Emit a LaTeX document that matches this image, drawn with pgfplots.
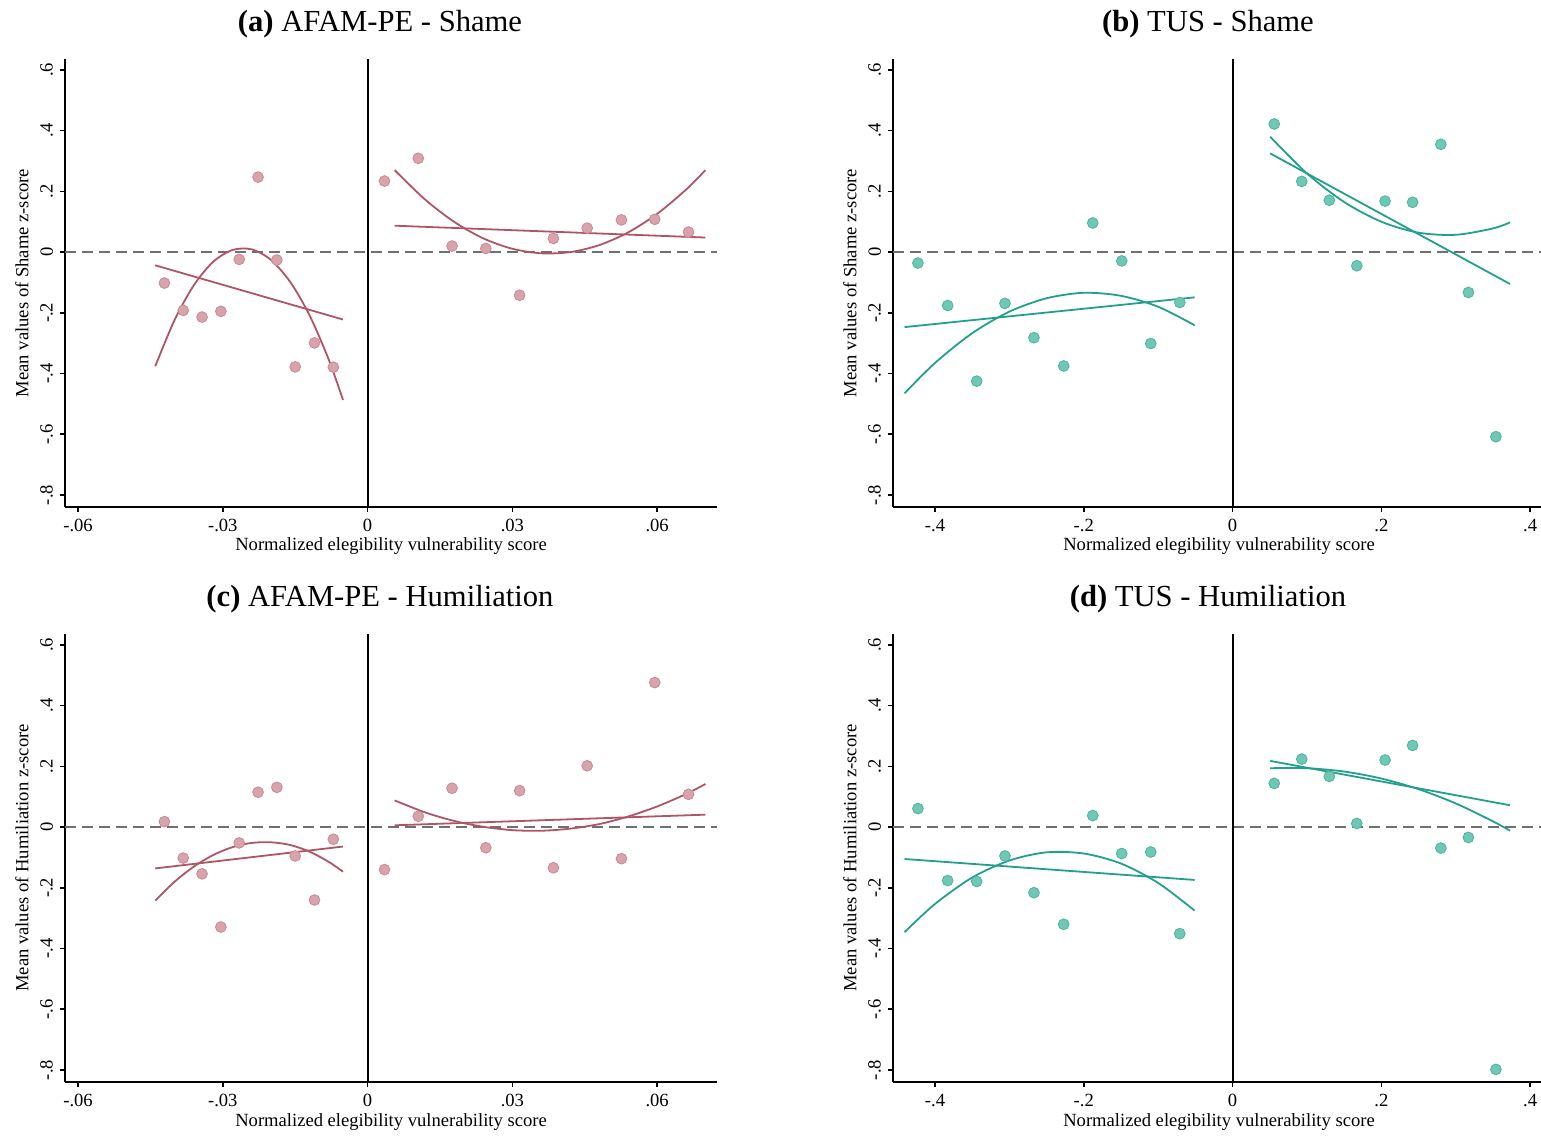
\documentclass[border=0pt]{standalone}
\usepackage{pgfplots}
\pgfplotsset{compat=1.18}
\usepackage{fontspec}
\setmainfont{Liberation Serif}
\definecolor{afam}{HTML}{B05565}
\definecolor{afamfill}{HTML}{D9A3AB}
\definecolor{afamedge}{HTML}{C98A94}
\definecolor{tus}{HTML}{21A08C}
\definecolor{tusfill}{HTML}{6FC8B4}
\definecolor{tusedge}{HTML}{4DB39E}
\definecolor{zerogray}{HTML}{707070}
\pgfplotsset{
  panel/.style={
    scale only axis, width=326pt, height=224pt,
    axis x line*=bottom, axis y line*=left,
    axis line style={-, black, line width=0.8pt},
    ymin=-0.8395, ymax=0.636,
    ytick={-0.8,-0.6,-0.4,-0.2,0,0.2,0.4,0.6},
    yticklabels={-.8,-.6,-.4,-.2,0,.2,.4,.6},
    scaled x ticks=false, scaled y ticks=false,
    tick align=outside, major tick length=2.5pt,
    tick style={black, line width=0.8pt},
    ticklabel style={font=\fontsize{9.3}{11}\selectfont},
    yticklabel style={rotate=90, anchor=south},
    label style={font=\fontsize{9.3}{11}\selectfont},
    xlabel={Normalized elegibility vulnerability score},
    xlabel style={at={(axis description cs:0.5,0)}, anchor=base, yshift=-22pt},
    ylabel style={at={(axis description cs:-0.066,0.5)}, anchor=center},
    title style={font=\fontsize{15.3}{18}\selectfont, at={(0.5,1)}, anchor=base, yshift=8pt, xshift=-5.5pt},
  },
  afamx/.style={xmin=-0.0627, xmax=0.0724, xtick={-0.06,-0.03,0,0.03,0.06}, xticklabels={-.06,-.03,0,.03,.06}},
  tusx/.style={xmin=-0.4565, xmax=0.42, xtick={-0.4,-0.2,0,0.2,0.4}, xticklabels={-.4,-.2,0,.2,.4}},
  zeroline/.style={black, line width=1pt},
  dashline/.style={zerogray, line width=1pt, dash pattern=on 5.5pt off 3pt},
  afamfit/.style={afam, line width=0.9pt, no markers},
  tusfit/.style={tus, line width=0.9pt, no markers},
  afampts/.style={only marks, mark=*, mark size=2.7pt, mark options={fill=afamfill, draw=afamedge, line width=0.4pt}},
  tuspts/.style={only marks, mark=*, mark size=2.7pt, mark options={fill=tusfill, draw=tusedge, line width=0.4pt}},
}
\begin{document}
\begin{tikzpicture}
\useasboundingbox (0,0) rectangle (770.5pt,-567.5pt);
% (a)
\begin{axis}[panel, afamx, at={(32.5pt,-29.5pt)}, anchor=north west,
  title={\textbf{(a)} AFAM-PE - Shame}, ylabel={Mean values of Shame z-score}]
\addplot[dashline] coordinates {(-0.0627,0) (0.0724,0)};
\addplot[zeroline] coordinates {(0,-0.8395) (0,0.636)};
\addplot[afamfit] coordinates {(-0.044,-0.0435) (-0.0051,-0.222)};
\addplot[afamfit, smooth] coordinates {(-0.044,-0.376) (-0.040,-0.224) (-0.036,-0.109) (-0.032,-0.032) (-0.028,0.007) (-0.024,0.009) (-0.020,-0.026) (-0.016,-0.099) (-0.012,-0.209) (-0.008,-0.356) (-0.0051,-0.487)};
\addplot[afamfit] coordinates {(0.0056,0.087) (0.0700,0.048)};
\addplot[afamfit, smooth] coordinates {(0.0056,0.270) (0.012,0.172) (0.018,0.099) (0.024,0.045) (0.030,0.011) (0.036,-0.004) (0.042,0.000) (0.048,0.023) (0.054,0.065) (0.060,0.126) (0.066,0.206) (0.070,0.270)};
\addplot[afampts] coordinates {(-0.0421,-0.102) (-0.0382,-0.192) (-0.0343,-0.214) (-0.0304,-0.195) (-0.0266,-0.024) (-0.0227,0.247) (-0.0188,-0.026) (-0.0150,-0.378) (-0.0110,-0.299) (-0.0071,-0.379)};
\addplot[afampts] coordinates {(0.0035,0.234) (0.0105,0.309) (0.0175,0.020) (0.0245,0.012) (0.0315,-0.142) (0.0385,0.045) (0.0455,0.079) (0.0526,0.106) (0.0595,0.108) (0.0665,0.066)};
\end{axis}
% (b)
\begin{axis}[panel, tusx, at={(446.5pt,-29.5pt)}, anchor=north west,
  title={\textbf{(b)} TUS - Shame}, ylabel={Mean values of Shame z-score}]
\addplot[dashline] coordinates {(-0.4565,0) (0.42,0)};
\addplot[zeroline] coordinates {(0,-0.8395) (0,0.636)};
\addplot[tusfit] coordinates {(-0.441,-0.247) (-0.051,-0.149)};
\addplot[tusfit, smooth] coordinates {(-0.441,-0.465) (-0.40,-0.365) (-0.35,-0.267) (-0.30,-0.196) (-0.25,-0.152) (-0.20,-0.134) (-0.15,-0.144) (-0.10,-0.180) (-0.051,-0.241)};
\addplot[tusfit] coordinates {(0.0506,0.325) (0.373,-0.105)};
\addplot[tusfit, smooth] coordinates {(0.0506,0.380) (0.10,0.259) (0.15,0.165) (0.20,0.100) (0.25,0.064) (0.30,0.057) (0.35,0.078) (0.373,0.098)};
\addplot[tuspts] coordinates {(-0.423,-0.036) (-0.383,-0.176) (-0.344,-0.425) (-0.306,-0.169) (-0.267,-0.282) (-0.227,-0.375) (-0.188,0.096) (-0.149,-0.029) (-0.110,-0.301) (-0.071,-0.166)};
\addplot[tuspts] coordinates {(0.056,0.422) (0.093,0.233) (0.130,0.171) (0.167,-0.045) (0.205,0.168) (0.242,0.164) (0.280,0.355) (0.317,-0.133) (0.354,-0.608)};
\end{axis}
% (c)
\begin{axis}[panel, afamx, at={(32.5pt,-317pt)}, anchor=north west,
  title={\textbf{(c)} AFAM-PE - Humiliation}, ylabel={Mean values of Humiliation z-score}]
\addplot[dashline] coordinates {(-0.0627,0) (0.0724,0)};
\addplot[zeroline] coordinates {(0,-0.8395) (0,0.636)};
\addplot[afamfit] coordinates {(-0.044,-0.136) (-0.0051,-0.064)};
\addplot[afamfit, smooth] coordinates {(-0.044,-0.242) (-0.040,-0.180) (-0.036,-0.130) (-0.032,-0.092) (-0.028,-0.066) (-0.024,-0.052) (-0.020,-0.050) (-0.016,-0.059) (-0.012,-0.081) (-0.008,-0.115) (-0.0051,-0.147)};
\addplot[afamfit] coordinates {(0.0056,0.006) (0.0700,0.041)};
\addplot[afamfit, smooth] coordinates {(0.0056,0.088) (0.012,0.048) (0.018,0.020) (0.024,0.001) (0.030,-0.010) (0.036,-0.012) (0.042,-0.005) (0.048,0.010) (0.054,0.035) (0.060,0.068) (0.066,0.109) (0.070,0.142)};
\addplot[afampts] coordinates {(-0.0421,0.018) (-0.0382,-0.102) (-0.0343,-0.154) (-0.0304,-0.329) (-0.0266,-0.052) (-0.0227,0.115) (-0.0188,0.131) (-0.0150,-0.095) (-0.0110,-0.240) (-0.0071,-0.040)};
\addplot[afampts] coordinates {(0.0035,-0.140) (0.0105,0.036) (0.0175,0.128) (0.0245,-0.068) (0.0315,0.120) (0.0385,-0.134) (0.0455,0.202) (0.0526,-0.104) (0.0595,0.476) (0.0665,0.108)};
\end{axis}
% (d)
\begin{axis}[panel, tusx, at={(446.5pt,-317pt)}, anchor=north west,
  title={\textbf{(d)} TUS - Humiliation}, ylabel={Mean values of Humiliation z-score}]
\addplot[dashline] coordinates {(-0.4565,0) (0.42,0)};
\addplot[zeroline] coordinates {(0,-0.8395) (0,0.636)};
\addplot[tusfit] coordinates {(-0.441,-0.105) (-0.051,-0.174)};
\addplot[tusfit, smooth] coordinates {(-0.441,-0.346) (-0.40,-0.253) (-0.35,-0.166) (-0.30,-0.110) (-0.25,-0.083) (-0.20,-0.087) (-0.15,-0.120) (-0.10,-0.184) (-0.051,-0.275)};
\addplot[tusfit] coordinates {(0.0506,0.218) (0.373,0.072)};
\addplot[tusfit, smooth] coordinates {(0.0506,0.194) (0.10,0.194) (0.15,0.183) (0.20,0.160) (0.25,0.125) (0.30,0.078) (0.35,0.019) (0.373,-0.012)};
\addplot[tuspts] coordinates {(-0.423,0.061) (-0.383,-0.176) (-0.344,-0.179) (-0.306,-0.095) (-0.267,-0.216) (-0.227,-0.320) (-0.188,0.038) (-0.149,-0.087) (-0.110,-0.082) (-0.071,-0.351)};
\addplot[tuspts] coordinates {(0.056,0.144) (0.093,0.224) (0.130,0.167) (0.167,0.012) (0.205,0.221) (0.242,0.269) (0.280,-0.069) (0.317,-0.034) (0.354,-0.798)};
\end{axis}
\end{tikzpicture}
\end{document}
